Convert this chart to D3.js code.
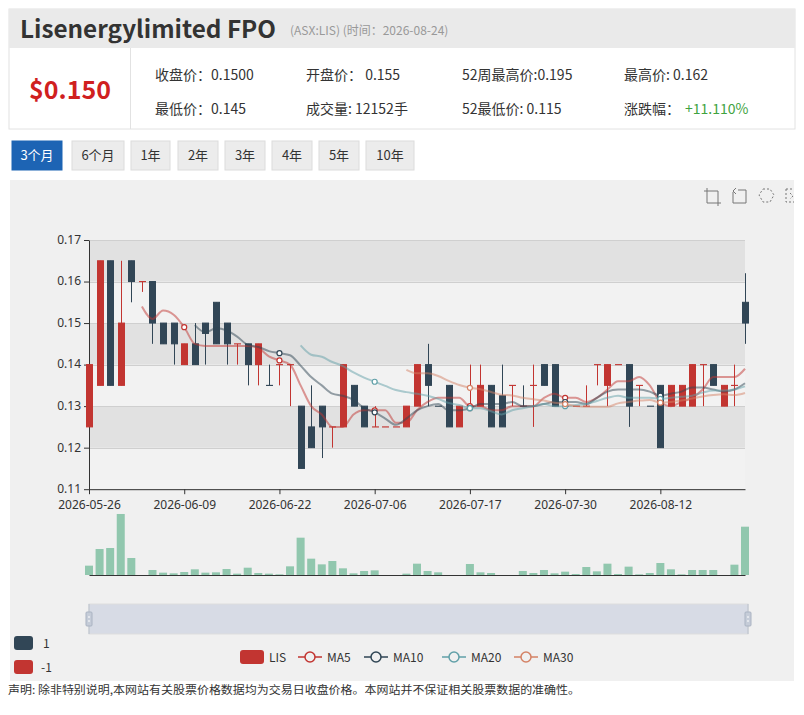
<!DOCTYPE html>
<html><head><meta charset="utf-8">
<script src="https://cdn.jsdelivr.net/npm/d3@7/dist/d3.min.js"></script>
<style>
html,body{margin:0;padding:0;background:#fff;}
svg{display:block;font-family:"Noto Sans CJK SC","Noto Sans",sans-serif;}
</style></head>
<body>
<svg id="c" width="804" height="715"></svg>
<script>
// ---------- data ----------
const dates = ["2026-05-26","2026-05-27","2026-05-28","2026-05-29","2026-06-01","2026-06-02","2026-06-03","2026-06-04","2026-06-05","2026-06-09",
"2026-06-10","2026-06-11","2026-06-12","2026-06-15","2026-06-16","2026-06-17","2026-06-18","2026-06-19","2026-06-22","2026-06-23",
"2026-06-24","2026-06-25","2026-06-26","2026-06-29","2026-06-30","2026-07-01","2026-07-02","2026-07-06","2026-07-07","2026-07-08",
"2026-07-09","2026-07-10","2026-07-13","2026-07-14","2026-07-15","2026-07-16","2026-07-17","2026-07-20","2026-07-21","2026-07-22",
"2026-07-23","2026-07-24","2026-07-27","2026-07-28","2026-07-29","2026-07-30","2026-07-31","2026-08-03","2026-08-04","2026-08-05",
"2026-08-06","2026-08-07","2026-08-10","2026-08-11","2026-08-12","2026-08-13","2026-08-14","2026-08-17","2026-08-18","2026-08-19",
"2026-08-20","2026-08-21","2026-08-24"];
const openP  = [.125,.135,.165,.135,.165,.16,.16,.15,.15,.14, .145,.15,.155,.15,.145,.145,.14,.135,.14,.14,
 .13,.125,.13,.125,.125,.135,.13,.125,.125,.125, .125,.13,.14,.13,.135,.125,.13,.13,.135,.1325,
 .135,.13,.135,.14,.14,.13,.13,.13,.14,.135, .14,.14,.135,.13,.135,.13,.13,.13,.14,.14, .13,.135,.155];
const closeP = [.14,.165,.135,.15,.16,.16,.15,.145,.145,.145, .14,.1475,.145,.145,.145,.14,.145,.135,.14,.14,
 .115,.12,.125,.125,.14,.13,.125,.125,.125,.125, .13,.14,.135,.13,.125,.13,.13,.135,.125,.125,
 .135,.13,.135,.135,.13,.13,.13,.13,.14,.14, .14,.13,.135,.13,.12,.135,.135,.14,.14,.135, .135,.135,.15];
const lowP   = [.125,.135,.135,.135,.155,.1575,.145,.145,.14,.14, .14,.14,.145,.14,.14,.135,.135,.135,.135,.13,
 .115,.12,.1175,.12,.125,.13,.125,.125,.125,.125, .125,.13,.13,.13,.125,.125,.13,.13,.125,.125,
 .13,.13,.125,.135,.13,.13,.13,.13,.135,.13, .14,.125,.13,.13,.12,.13,.13,.13,.13,.135, .13,.13,.145];
const highP  = [.14,.165,.165,.165,.165,.16,.16,.15,.15,.145, .15,.15,.155,.15,.145,.145,.145,.14,.14,.14,
 .13,.135,.13,.125,.14,.135,.13,.13,.125,.125, .13,.14,.145,.13,.135,.13,.14,.14,.135,.14,
 .135,.135,.14,.14,.14,.13,.13,.135,.14,.14, .14,.14,.135,.13,.135,.135,.135,.14,.14,.14, .135,.14,.162];
const volume = [2350,6540,6790,15350,4280,0,1260,590,420,750, 1430,590,670,1510,340,1840,500,340,170,2180,
 9390,4110,2680,3520,1680,420,1010,1170,0,0, 340,2850,1010,670,0,0,2770,670,500,0,
 0,1010,500,1260,420,840,250,2010,920,2850, 250,2100,170,500,3020,1430,170,1260,1260,1260, 0,2600,12152];
const priceTicks = [0.11,0.12,0.13,0.14,0.15,0.16,0.17];
const maDays = [5,10,20,30];
const maNames = ["MA5","MA10","MA20","MA30"];
const maColors = ["#c23531","#2f4554","#61a0a8","#d48265"];
const upColor = "#c23531", downColor = "#314656", volColor = "#91c7ae";
const labelEvery = 9;

// ---------- svg ----------
const svg = d3.select("#c");

// header
svg.append("rect").attr("x",9).attr("y",9).attr("width",786).attr("height",120).attr("fill","#fff").attr("stroke","#e2e2e2");
svg.append("rect").attr("x",9).attr("y",9).attr("width",786).attr("height",39).attr("fill","#eaeaea");
svg.append("text").attr("x",20).attr("y",38).attr("font-size",24).attr("font-weight","bold").attr("fill","#333")
  .attr("textLength",256).attr("lengthAdjust","spacingAndGlyphs").text("Lisenergylimited FPO");
svg.append("text").attr("x",290).attr("y",35).attr("font-size",12).attr("fill","#999").text("(ASX:LIS)  (时间：2026-08-24)");
svg.append("line").attr("x1",130.5).attr("x2",130.5).attr("y1",48).attr("y2",129).attr("stroke","#e2e2e2");
svg.append("text").attr("x",70).attr("y",99).attr("text-anchor","middle").attr("font-size",25).attr("font-weight","bold")
  .attr("fill","#d0201f").text("$0.150");
const info = [
  [155,80,"收盘价：0.1500"],[306,80,"开盘价： 0.155"],[462,80,"52周最高价:0.195"],[624,80,"最高价: 0.162"],
  [155,114,"最低价：0.145"],[306,114,"成交量: 12152手"],[462,114,"52最低价: 0.115"],[624,114,"涨跌幅："]
];
info.forEach(d=>svg.append("text").attr("x",d[0]).attr("y",d[1]).attr("font-size",14).attr("fill","#333").text(d[2]));
svg.append("text").attr("x",685).attr("y",114).attr("font-size",14).attr("fill","#3fa33f").text("+11.110%");

// buttons
const buttons = [["3个月",12,62],["6个月",72,124],["1年",131,170],["2年",178,218],["3年",225,265],["4年",272,312],["5年",319,359],["10年",366,414]];
buttons.forEach((b,i)=>{
  svg.append("rect").attr("x",b[1]).attr("y",141).attr("width",b[2]-b[1]).attr("height",29)
    .attr("fill", i===0?"#1d64b4":"#ececec").attr("stroke", i===0?"#1d64b4":"#dcdcdc");
  svg.append("text").attr("x",(b[1]+b[2])/2).attr("y",160).attr("text-anchor","middle").attr("font-size",13)
    .attr("fill", i===0?"#fff":"#333").text(b[0]);
});

// chart background
svg.append("rect").attr("x",10).attr("y",180).attr("width",784).attr("height",501).attr("fill","#f0f0f0");

// toolbox icons
const tb = svg.append("g").attr("fill","none").attr("stroke","#777").attr("stroke-width",1);
tb.append("path").attr("d","M707,188 V203 H721 M704,191 H718 V206");
tb.append("path").attr("d","M733,192 V203 H746 V190 H738 M736,188 L733,191 L736,194");
tb.append("path").attr("d","M763,189 L770,189 L774,195 L770,202 L763,202 L759,195 Z").attr("stroke-dasharray","2,2");
tb.append("path").attr("d","M786,189 H794 M786,189 V202 H794 M790,193 L793,196 L790,199").attr("stroke-dasharray","2,2");

// ---------- scales ----------
const left = 89, right = 745;
const x = d3.scalePoint().domain(dates).range([left,right]).padding(0);
const y = d3.scaleLinear().domain([0.11,0.17]).range([489.2,240]);
const yv = d3.scaleLinear().domain([0,20000]).range([575,495.5]);

// split areas & lines
const bands = svg.append("g");
for (let k=0;k<priceTicks.length-1;k++){
  bands.append("rect").attr("x",left).attr("width",right-left)
    .attr("y",y(priceTicks[k+1])).attr("height",y(priceTicks[k])-y(priceTicks[k+1]))
    .attr("fill", k%2===1 ? "rgba(200,200,200,0.38)" : "rgba(250,250,250,0.3)");
}
priceTicks.forEach(t=>{
  bands.append("line").attr("x1",left).attr("x2",right).attr("y1",Math.round(y(t))+0.5).attr("y2",Math.round(y(t))+0.5)
    .attr("stroke","#cfcfcf");
});

// axes
const labelDates = dates.filter((d,i)=>i%labelEvery===0);
const yAxis = d3.axisLeft(y).tickValues(priceTicks).tickFormat(d3.format(".2f")).tickSize(5).tickSizeOuter(0).tickPadding(3);
const ga = svg.append("g").attr("transform",`translate(${left},0)`).call(yAxis);
ga.selectAll(".tick text").attr("dy","0.28em");
const xAxis = d3.axisBottom(x).tickValues(labelDates).tickSize(5).tickSizeOuter(0).tickPadding(6);
const gx = svg.append("g").attr("transform",`translate(0,${y(0.11)})`).call(xAxis);
[ga,gx].forEach(g=>{
  g.selectAll("path,line").attr("stroke","#333");
  g.selectAll("text").attr("fill","#333").attr("font-size",12).attr("font-family","\"Noto Sans\",sans-serif");
});

// candles
const idx = d3.range(dates.length);
function sign(i){
  if (closeP[i]>openP[i]) return 1;
  if (closeP[i]<openP[i]) return -1;
  return i>0 ? (closeP[i-1] <= closeP[i] ? 1 : -1) : 1;
}
const cg = svg.append("g");
const bw = 6;
idx.forEach(i=>{
  const col = sign(i)>0?upColor:downColor;
  const cx = Math.round(x(dates[i]))+0.5;
  cg.append("line").attr("x1",cx).attr("x2",cx).attr("y1",y(highP[i])).attr("y2",y(lowP[i])).attr("stroke",col).attr("stroke-width",1);
  const top = y(Math.max(openP[i],closeP[i])), bot = y(Math.min(openP[i],closeP[i]));
  cg.append("rect").attr("x",cx-bw/2).attr("y",top).attr("width",bw).attr("height",Math.max(bot-top,0.1))
    .attr("fill",col).attr("stroke",col).attr("stroke-width",1);
});

// moving averages
function calcMA(n){
  return idx.map(i=>{
    if (i<n) return null;
    let s=0; for (let j=0;j<n;j++) s+=closeP[i-j];
    return s/n;
  });
}
const line = d3.line().defined(d=>d.v!==null).x(d=>x(dates[d.i])).y(d=>y(d.v)).curve(d3.curveMonotoneX);
maDays.forEach((n,k)=>{
  const vals = calcMA(n).map((v,i)=>({i,v}));
  svg.append("path").datum(vals).attr("d",line).attr("fill","none").attr("stroke",maColors[k])
    .attr("stroke-width",2).attr("stroke-opacity",0.5);
  svg.append("g").selectAll("circle").data(vals.filter(d=>d.v!==null && d.i%labelEvery===0)).join("circle")
    .attr("cx",d=>x(dates[d.i])).attr("cy",d=>y(d.v)).attr("r",2.5)
    .attr("fill","#fff").attr("stroke",maColors[k]).attr("stroke-width",1.2);
});

// volume
const vg = svg.append("g");
idx.forEach(i=>{
  if (volume[i]<=0) return;
  vg.append("rect").attr("x",x(dates[i])-4).attr("width",8).attr("y",yv(volume[i])).attr("height",yv(0)-yv(volume[i]))
    .attr("fill",volColor);
});
const vAxis = d3.axisBottom(x).tickValues([]).tickSizeOuter(0);
svg.append("g").attr("transform",`translate(0,${yv(0)})`).call(vAxis).selectAll("path").attr("stroke","#333");

// data zoom slider
svg.append("rect").attr("x",89).attr("y",604).attr("width",659).attr("height",30).attr("fill","#d7dbe5").attr("stroke","#ddd");
[89,748].forEach(hx=>{
  svg.append("line").attr("x1",hx).attr("x2",hx).attr("y1",604).attr("y2",634).attr("stroke","#b8c0cc");
  svg.append("rect").attr("x",hx-3).attr("y",612).attr("width",6).attr("height",14).attr("rx",1).attr("fill","#c5ccd8").attr("stroke","#aab3c2");
  svg.append("line").attr("x1",hx-1).attr("x2",hx+1).attr("y1",617).attr("y2",617).attr("stroke","#fff");
  svg.append("line").attr("x1",hx-1).attr("x2",hx+1).attr("y1",621).attr("y2",621).attr("stroke","#fff");
});

// visual map legend
svg.append("rect").attr("x",14).attr("y",636).attr("width",19).attr("height",14).attr("rx",3).attr("fill",downColor);
svg.append("text").attr("x",43).attr("y",648).attr("font-size",12).attr("fill","#333").text("1");
svg.append("rect").attr("x",14).attr("y",660).attr("width",19).attr("height",14).attr("rx",3).attr("fill",upColor);
svg.append("text").attr("x",41).attr("y",672).attr("font-size",12).attr("fill","#333").text("-1");

// series legend
const lg = svg.append("g").attr("font-size",12).attr("fill","#333");
lg.append("rect").attr("x",240).attr("y",650).attr("width",24).attr("height",14).attr("rx",3).attr("fill",upColor);
lg.append("text").attr("x",269).attr("y",662).text("LIS");
const lx = [298,364,442,514];
maNames.forEach((nm,k)=>{
  lg.append("line").attr("x1",lx[k]).attr("x2",lx[k]+24).attr("y1",657).attr("y2",657).attr("stroke",maColors[k]).attr("stroke-width",1.5);
  lg.append("circle").attr("cx",lx[k]+12).attr("cy",657).attr("r",5).attr("fill","#f0f0f0").attr("stroke",maColors[k]).attr("stroke-width",1.5);
  lg.append("text").attr("x",lx[k]+29).attr("y",662).text(nm);
});

// disclaimer
svg.append("text").attr("x",8).attr("y",694).attr("font-size",11).attr("fill","#333")
  .attr("textLength",572).attr("lengthAdjust","spacingAndGlyphs")
  .text("声明: 除非特别说明,本网站有关股票价格数据均为交易日收盘价格。本网站并不保证相关股票数据的准确性。");
</script>
</body></html>
